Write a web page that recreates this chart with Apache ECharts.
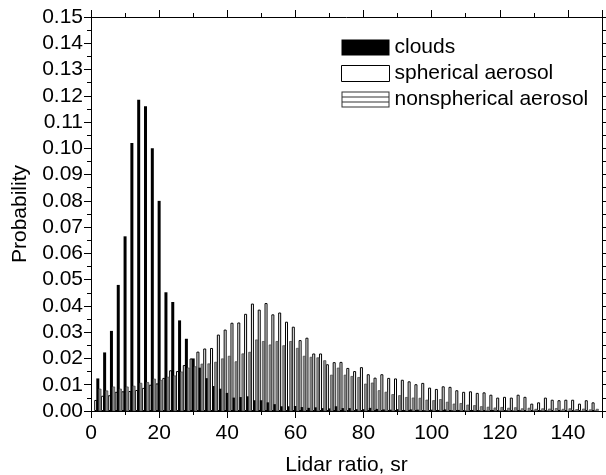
<!DOCTYPE html>
<html>
<head>
<meta charset="utf-8">
<script src="https://cdn.jsdelivr.net/npm/echarts@6/dist/echarts.min.js"></script>
<style>
  html, body { margin: 0; padding: 0; background: #fff; }
  #chart { width: 606px; height: 475px; }
</style>
</head>
<body>
<div id="chart"></div>
<script>
// bin centres of the lidar ratio histogram, sr
var lidarRatio = [2, 4, 6, 8, 10, 12, 14, 16, 18, 20, 22, 24, 26, 28, 30, 32, 34, 36, 38, 40,
  42, 44, 46, 48, 50, 52, 54, 56, 58, 60, 62, 64, 66, 68, 70, 72, 74, 76, 78, 80,
  82, 84, 86, 88, 90, 92, 94, 96, 98, 100, 102, 104, 106, 108, 110, 112, 114, 116, 118, 120,
  122, 124, 126, 128, 130, 132, 134, 136, 138, 140, 142, 144, 146, 148];

var clouds = [0.0124, 0.0223, 0.0305, 0.0480, 0.0665, 0.1020, 0.1185, 0.1160, 0.1000, 0.0800,
  0.0452, 0.0415, 0.0345, 0.0275, 0.0200, 0.0165, 0.0125, 0.0095, 0.0085, 0.0069,
  0.0051, 0.0053, 0.0056, 0.0041, 0.0041, 0.0033, 0.0026, 0.0018, 0.0018, 0.0019,
  0.0015, 0.0012, 0.0014, 0.0011, 0.0010, 0.0018, 0.0011, 0.0011, 0.0007, 0.0007,
  0.0012, 0.0008, 0.0006, 0.0005, 0.0007, 0.0004, 0.0006, 0.0005, 0.0003, 0.0005,
  0.0004, 0.0006, 0.0003, 0.0004, 0.0002, 0.0004, 0.0003, 0.0002, 0.0004, 0.0002,
  0.0003, 0.0002, 0.0003, 0.0001, 0.0002, 0.0003, 0.0002, 0.0001, 0.0002, 0.0001,
  0.0002, 0.0001, 0.0001, 0.0002];

var spherical = [0.0042, 0.0058, 0.0060, 0.0073, 0.0075, 0.0076, 0.0080, 0.0088, 0.0100, 0.0105,
  0.0126, 0.0155, 0.0152, 0.0175, 0.0200, 0.0226, 0.0238, 0.0240, 0.0291, 0.0310,
  0.0336, 0.0337, 0.0370, 0.0409, 0.0386, 0.0411, 0.0368, 0.0375, 0.0340, 0.0321,
  0.0270, 0.0279, 0.0219, 0.0219, 0.0178, 0.0186, 0.0187, 0.0164, 0.0152, 0.0167,
  0.0140, 0.0127, 0.0140, 0.0126, 0.0124, 0.0119, 0.0113, 0.0102, 0.0107, 0.0089,
  0.0084, 0.0094, 0.0092, 0.0079, 0.0073, 0.0075, 0.0069, 0.0071, 0.0062, 0.0051,
  0.0054, 0.0051, 0.0062, 0.0054, 0.0028, 0.0033, 0.0051, 0.0043, 0.0041, 0.0043,
  0.0043, 0.0028, 0.0041, 0.0033];

var nonspherical = [0.0085, 0.0078, 0.0093, 0.0085, 0.0093, 0.0096, 0.0107, 0.0110, 0.0123, 0.0118,
  0.0130, 0.0135, 0.0150, 0.0165, 0.0170, 0.0180, 0.0181, 0.0187, 0.0200, 0.0210,
  0.0189, 0.0219, 0.0225, 0.0272, 0.0266, 0.0253, 0.0266, 0.0250, 0.0266, 0.0240,
  0.0210, 0.0206, 0.0204, 0.0193, 0.0138, 0.0165, 0.0138, 0.0133, 0.0129, 0.0104,
  0.0108, 0.0079, 0.0073, 0.0064, 0.0060, 0.0053, 0.0051, 0.0050, 0.0043, 0.0041,
  0.0045, 0.0035, 0.0028, 0.0030, 0.0024, 0.0022, 0.0018, 0.0016, 0.0013, 0.0015,
  0.0012, 0.0014, 0.0010, 0.0012, 0.0008, 0.0010, 0.0009, 0.0011, 0.0008, 0.0010,
  0.0007, 0.0009, 0.0006, 0.0008];

var FONT = "'Liberation Sans', Arial, sans-serif";
var FS = 21;

function pairs(values) {
  var out = [];
  for (var i = 0; i < values.length; i++) {
    out.push([lidarRatio[i], values[i]]);
  }
  return out;
}

function xAxisOf(pos, showLabels) {
  return {
    type: 'value', position: pos, min: 0, max: 150, interval: 20,
    axisLine: { onZero: false, lineStyle: { color: '#000', width: 1 } },
    axisTick: { show: true, inside: false, length: 7, lineStyle: { color: '#000' } },
    minorTick: { show: true, splitNumber: 2, length: 4, lineStyle: { color: '#000' } },
    splitLine: { show: false },
    axisLabel: { show: showLabels, showMaxLabel: false, margin: 12, color: '#000', fontSize: FS, fontFamily: FONT },
    name: showLabels ? 'Lidar ratio, sr' : '',
    nameLocation: 'middle', nameGap: 44,
    nameTextStyle: { color: '#000', fontSize: FS, fontFamily: FONT }
  };
}

function yAxisOf(pos, showLabels) {
  return {
    type: 'value', position: pos, min: 0, max: 0.15, interval: 0.01,
    axisLine: { show: true, onZero: false, lineStyle: { color: '#000', width: 1 } },
    axisTick: { show: true, inside: false, length: 7, lineStyle: { color: '#000' } },
    minorTick: { show: true, splitNumber: 2, length: 4, lineStyle: { color: '#000' } },
    splitLine: { show: false },
    axisLabel: {
      show: showLabels, margin: 8, color: '#000', fontSize: FS, fontFamily: FONT,
      formatter: function (v) { return v.toFixed(2); }
    },
    name: showLabels ? 'Probability' : '',
    nameLocation: 'middle', nameGap: 60,
    nameTextStyle: { color: '#000', fontSize: FS, fontFamily: FONT }
  };
}

// outline + two thin lines, used as the hatched legend key
var hatchIcon = 'path://M0,0H48V1H0Z M0,15H48V16H0Z M0,0H1V16H0Z M47,0H48V16H47Z M1,5H47V6H1Z M1,10H47V11H1Z';

var chart = echarts.init(document.getElementById('chart'), null, { renderer: 'canvas' });
chart.setOption({
  animation: false,
  backgroundColor: '#fff',
  // v6 would otherwise shrink the grid to keep the axis name inside the canvas
  grid: { left: 91, right: 4, top: 17, bottom: 64, outerBoundsMode: 'none' },
  legend: {
    orient: 'vertical', left: 336, top: 32,
    itemWidth: 48, itemHeight: 16, itemGap: 5,
    textStyle: { color: '#000', fontSize: FS, fontFamily: FONT },
    data: [
      { name: 'clouds', icon: 'rect', itemStyle: { color: '#000' } },
      { name: 'spherical aerosol', icon: 'rect', itemStyle: { color: '#fff', borderColor: '#000', borderWidth: 1 } },
      { name: 'nonspherical aerosol', icon: hatchIcon, itemStyle: { color: '#333', borderWidth: 0 } }
    ]
  },
  xAxis: [xAxisOf('bottom', true), xAxisOf('top', false)],
  yAxis: [yAxisOf('left', true), yAxisOf('right', false)],
  series: [
    {
      name: 'spherical aerosol', type: 'bar', xAxisIndex: 0, yAxisIndex: 0,
      barWidth: 3, barGap: '-30%',
      itemStyle: { color: '#fff', borderColor: '#000', borderWidth: 1 },
      data: pairs(spherical)
    },
    {
      name: 'clouds', type: 'bar', xAxisIndex: 0, yAxisIndex: 0,
      barWidth: 3, barGap: '-30%',
      itemStyle: { color: '#000' },
      data: pairs(clouds)
    },
    {
      name: 'nonspherical aerosol', type: 'bar', xAxisIndex: 0, yAxisIndex: 0,
      barWidth: 3, barGap: '-30%',
      itemStyle: { color: '#8c8c8c', borderColor: '#444', borderWidth: 0.7 },
      data: pairs(nonspherical)
    }
  ]
});
</script>
</body>
</html>
